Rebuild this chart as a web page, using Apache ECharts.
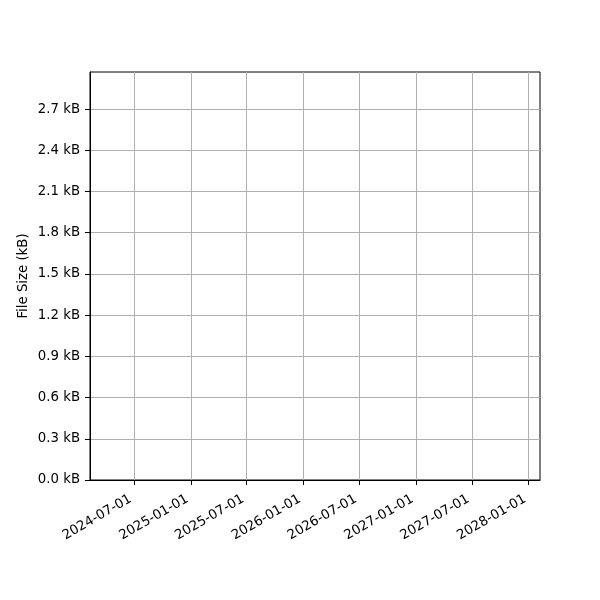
<!DOCTYPE html>
<html>
<head>
<meta charset="utf-8">
<script src="https://cdn.jsdelivr.net/npm/echarts@6/dist/echarts.min.js"></script>
<style>
html, body { margin: 0; padding: 0; background: #fff; }
#container { width: 600px; height: 600px; }
</style>
</head>
<body>
<div id="container"></div>
<script>
// no points in the reference, series stays empty
var dates = [];
var sizes = [];
var xTicks = ['2024-07-01', '2025-01-01', '2025-07-01', '2026-01-01', '2026-07-01', '2027-01-01', '2027-07-01', '2028-01-01'];
var yTicks = [0, 0.3, 0.6, 0.9, 1.2, 1.5, 1.8, 2.1, 2.4, 2.7];
var xMin = '2024-02-09', xMax = '2028-02-07';
var yMin = 0, yMax = 2.97;

var myChart = echarts.init(document.getElementById('container'));

function ts(s) {
	var p = s.split('-');
	return Date.UTC(+p[0], +p[1] - 1, +p[2]);
}
function pad(n) { return n < 10 ? '0' + n : '' + n; }

var xTickValues = xTicks.map(ts);
var seriesData = dates.map(function (d, i) { return [ts(d), sizes[i]]; });

var font = 'DejaVu Sans';
var fs = 13.3;
var option = {
	animation: false,
	grid: {
		left: 90, right: 60, top: 72, bottom: 120,
		show: true, borderColor: '#000', borderWidth: 1,
		containLabel: false
	},
	xAxis: {
		// timestamps on a value axis so the ticks can be placed on exact dates
		type: 'value',
		min: ts(xMin),
		max: ts(xMax),
		axisLine: { show: true, onZero: false, lineStyle: { color: '#000', width: 1 } },
		axisTick: { show: true, length: 5, lineStyle: { color: '#000' }, customValues: xTickValues },
		splitLine: { show: true, lineStyle: { color: '#b0b0b0', width: 1 } },
		axisLabel: {
			customValues: xTickValues,
			rotate: 30,
			color: '#000',
			fontFamily: font,
			fontSize: fs,
			margin: 16,
			padding: [0, 4, 0, 0],
			formatter: function (v) {
				var d = new Date(v);
				return d.getUTCFullYear() + '-' + pad(d.getUTCMonth() + 1) + '-' + pad(d.getUTCDate());
			}
		}
	},
	yAxis: {
		type: 'value',
		min: yMin,
		max: yMax,
		name: 'File Size (kB)',
		nameLocation: 'middle',
		nameGap: 60,
		nameMoveOverlap: false,
		nameTextStyle: { color: '#000', fontFamily: font, fontSize: fs },
		axisLine: { show: true, lineStyle: { color: '#000', width: 1 } },
		axisTick: { show: true, length: 5, lineStyle: { color: '#000' }, customValues: yTicks },
		splitLine: { show: true, lineStyle: { color: '#b0b0b0', width: 1 } },
		axisLabel: {
			customValues: yTicks,
			color: '#000',
			fontFamily: font,
			fontSize: fs,
			margin: 10,
			formatter: function (v) { return v.toFixed(1) + ' kB'; }
		}
	},
	series: [
		{
			type: 'line',
			data: seriesData,
			showSymbol: false,
			lineStyle: { color: '#1f77b4', width: 1.5 }
		}
	]
};
myChart.setOption(option);
</script>
</body>
</html>
